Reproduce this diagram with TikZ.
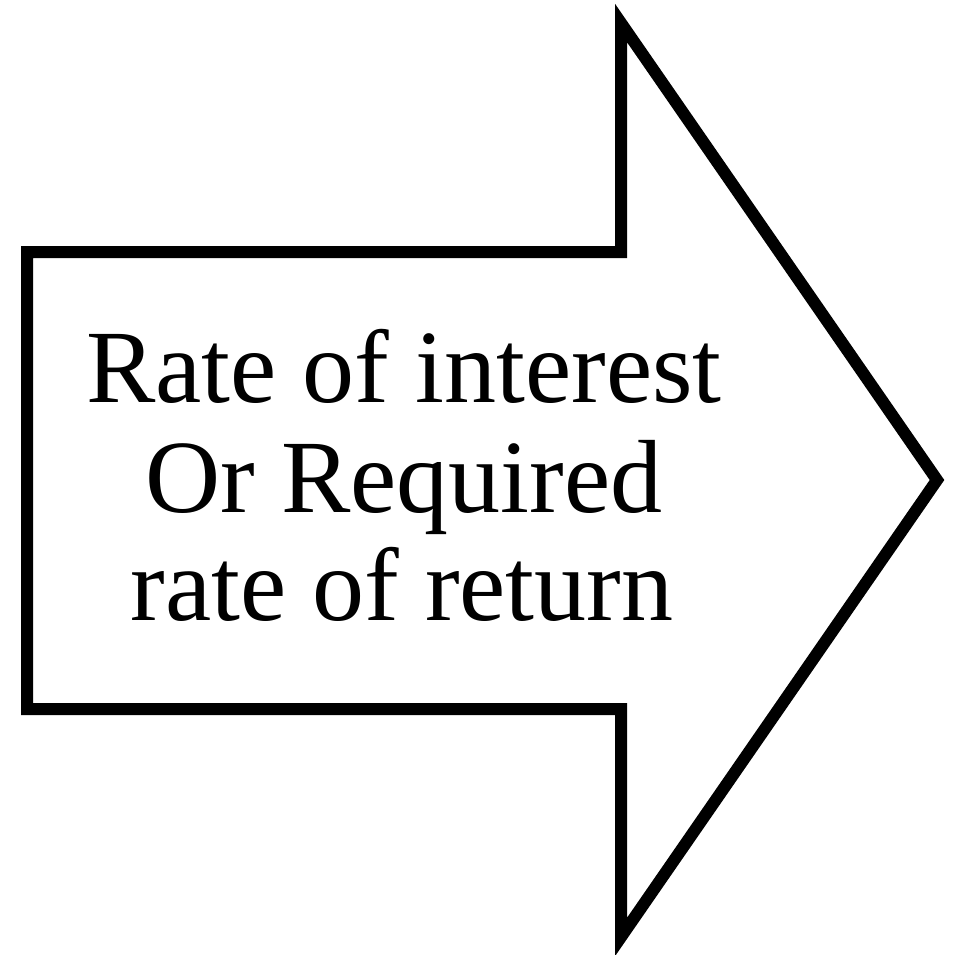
\documentclass[tikz,border=0pt]{standalone}
\usepackage{fontspec}
\setmainfont{Liberation Serif}
\begin{document}
\begin{tikzpicture}[x=1pt,y=-1pt,
  arrowshape/.style={draw=black,line width=12pt,miter limit=20,line join=miter,fill=white},
  label/.style={inner sep=0pt,anchor=base,font=\fontsize{104}{109}\selectfont}]
\useasboundingbox (0,0) rectangle (959,954);
\draw[arrowshape] (27,252) -- (621,252) -- (621,23) -- (937,480) -- (621,937) -- (621,709) -- (27,709) -- cycle;
\node[label] (l1) at (404,402) {Rate of interest};
\node[label] (l2) at (404,512) {Or Required};
\node[label] (l3) at (402,620) {rate of return};
\end{tikzpicture}
\end{document}
